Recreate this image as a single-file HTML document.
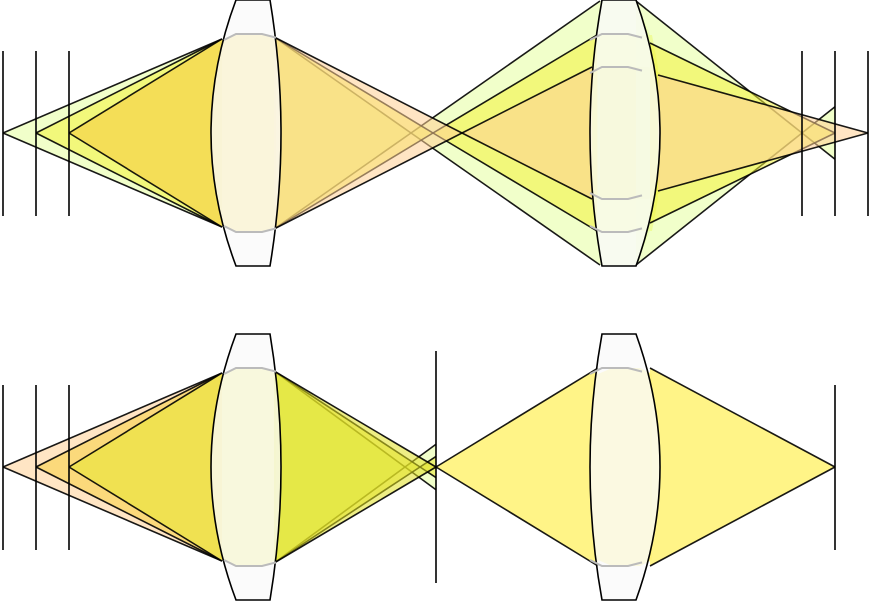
<!DOCTYPE html>
<html><head><meta charset="utf-8"><style>
html,body{margin:0;padding:0;background:#fff;}
svg{display:block;}
</style></head><body>
<svg id="chart" width="870" height="602" viewBox="0 0 870 602" xmlns="http://www.w3.org/2000/svg">
<g id="cones"></g>
<g id="lenses"></g>
<g id="planes"></g>
</svg>
<script>
// Data arrays
const axesY = [133, 467];
const lensTopL = [236, 602];
const lensTopR = [270, 636];
const lensBulgeL = [211, 590];
const lensBulgeR = [281, 660];
const objectPlanes = [3, 36, 69];
const topImagePlanes = [802, 835, 868];
const topMidFocus = [411, 433, 462];
const topLens2Half = [132, 98, 66];
const topLens2X = [600, 597, 592];
const topLens2OutX = [636, 650, 658];
const topRightEnd = [835, 835, 868];
const topRightFocus = [802, 835, 868];
const topLeftColors = ['#e6ff9e', '#f2f23a', '#f5c83a'];
const topMidColors = ['#e6ff9e', '#f2f23a', '#ffcf94'];
const topRightColors = ['#e6ff9e', '#f2f23a', '#ffcf94'];
const botMidFocus = [405, 420, 436];
const botLeftColors = ['#ffcf94', '#f7d040', '#e8e830'];
const botMidColors = ['#e6ff9e', '#e8e830', '#e0e020'];
const botRightFocus = 835;
const botMidPlane = 436;

const NS = 'http://www.w3.org/2000/svg';
const cones = document.getElementById('cones');
const lenses = document.getElementById('lenses');
const planes = document.getElementById('planes');
const OP = 0.55;

function el(tag, attrs, parent) {
  const e = document.createElementNS(NS, tag);
  for (const k in attrs) e.setAttribute(k, attrs[k]);
  parent.appendChild(e);
  return e;
}
function poly(pts, fill, op, name) {
  const p = el('polygon', {points: pts.map(q => q.join(',')).join(' '), fill: fill, 'fill-opacity': op, stroke: 'none'}, cones);
  
  
  for (let k = 1; k < 3; k++) {
    const l = el('line', {x1: pts[0][0], y1: pts[0][1], x2: pts[k][0], y2: pts[k][1], stroke: '#000', 'stroke-width': 1.6, 'stroke-opacity': 0.9}, cones);
    
    
  }
}
function extend(p, f, x) {
  const t = (x - p[0]) / (f[0] - p[0]);
  return [x, p[1] + t * (f[1] - p[1])];
}

const L1in = 222, L1out = 274, h1 = 94;

// beams inside lenses (drawn under the lens glass)
function beamInLens(x1, x2, y, h, fill, op) {
  const b = el('polygon', {points: `${x1},${y-h} ${x1+14},${y-h-6} ${x2-12},${y-h-6} ${x2},${y-h} ${x2},${y+h} ${x2-12},${y+h+6} ${x1+14},${y+h+6} ${x1},${y+h}`,
    fill: fill, 'fill-opacity': op, stroke: 'none'}, cones);
  
  
}
beamInLens(222, 276, axesY[0], 93, '#f5d840', 0.75);
beamInLens(222, 276, axesY[1], 93, '#ecea48', 0.75);
beamInLens(598, 652, axesY[1], 93, '#fff37a', 0.9);
beamInLens(592, 660, axesY[0], 60, '#f5d840', 0.75);
el('polygon', {points: `592,${133-66} 596,35 652,35 658,${133-66} 658,${133+66} 652,231 596,231 592,${133+66}`, fill: '#f2f23a', 'fill-opacity': 0.55, stroke: 'none'}, cones);
el('polygon', {points: `598,35 600,1 636,1 650,35 650,231 636,265 600,265 598,231`, fill: '#e6ff9e', 'fill-opacity': 0.5, stroke: 'none'}, cones);

// ---- top diagram
{
  const y = axesY[0];
  for (let i = 0; i < 3; i++) {
    poly([[objectPlanes[i], y], [L1in, y - h1], [L1in, y + h1]], topLeftColors[i], OP, 'top-left-cone');
    const F = [topMidFocus[i], y];
    poly([F, [L1out, y - h1 - 2], [L1out, y + h1 + 2]], topMidColors[i], OP, 'top-mid-cone-a');
    poly([F, [topLens2X[i], y - topLens2Half[i]], [topLens2X[i], y + topLens2Half[i]]], topMidColors[i], OP, 'top-mid-cone-b');
    const x2 = topLens2OutX[i];
    const h2 = topLens2Half[i] - (i === 0 ? 0 : 8);
    const RF = [topRightFocus[i], y];
    poly([RF, [x2, y - h2], [x2, y + h2]], topRightColors[i], OP, 'top-right-cone');
    if (topRightEnd[i] > topRightFocus[i]) {
      const a = extend([x2, y - h2], RF, topRightEnd[i]);
      const b = extend([x2, y + h2], RF, topRightEnd[i]);
      poly([RF, a, b], topRightColors[i], OP, 'top-right-cone-tail');
    }
  }
}
// ---- bottom diagram
{
  const y = axesY[1];
  for (let i = 0; i < 3; i++) {
    poly([[objectPlanes[i], y], [L1in, y - h1], [L1in, y + h1]], botLeftColors[i], OP, 'bottom-left-cone');
    const F = [botMidFocus[i], y];
    poly([F, [L1out, y - h1 - 2], [L1out, y + h1 + 2]], botMidColors[i], OP, 'bottom-mid-cone');
    if (botMidFocus[i] < botMidPlane) {
      const a = extend([L1out, y - h1 - 2], F, botMidPlane);
      const b = extend([L1out, y + h1 + 2], F, botMidPlane);
      poly([F, a, b], botMidColors[i], OP, 'bottom-mid-cone-tail');
    }
  }
  poly([[botMidPlane, y], [598, y - 99], [598, y + 99]], '#fff37a', 0.9, 'bottom-relay-cone-in');
  poly([[botRightFocus, y], [650, y - 99], [650, y + 99]], '#fff37a', 0.9, 'bottom-relay-cone-out');
}

// ---- lenses
axesY.forEach((y, r) => {
  for (let j = 0; j < 2; j++) {
    const t = y - 133, b = y + 133;
    const tl = lensTopL[j], tr = lensTopR[j];
    const cl = 2 * lensBulgeL[j] - tl, cr = 2 * lensBulgeR[j] - tr;
    const p = el('path', {d: `M${tl},${t} L${tr},${t} Q${cr},${y} ${tr},${b} L${tl},${b} Q${cl},${y} ${tl},${t} Z`,
      fill: '#fafafa', 'fill-opacity': 0.78, stroke: '#000', 'stroke-width': 1.6}, lenses);
    
    
    const offs = (r === 0 && j === 1) ? [99, 66] : [99];
    offs.forEach(o => {
      [-1, 1].forEach(s => {
        const yy = y + s * o;
        const d = -s * 6;
        const g = el('polyline', {points: `${tl-12},${yy+d} ${tl},${yy} ${tr-8},${yy} ${tr+6},${yy+d*0.6}`,
          fill: 'none', stroke: '#bbb', 'stroke-width': 2}, lenses);
        
        
      });
    });
  }
});

// ---- planes
function vline(x, y1, y2) {
  const l = el('line', {x1: x, y1: y1, x2: x, y2: y2, stroke: '#000', 'stroke-width': 1.6}, planes);
  
  
}
objectPlanes.forEach(x => { vline(x, 51, 216); vline(x, 385, 550); });
topImagePlanes.forEach(x => vline(x, 51, 216));
vline(botMidPlane, 351, 583);
vline(botRightFocus, 385, 550);
</script>
</body></html>
